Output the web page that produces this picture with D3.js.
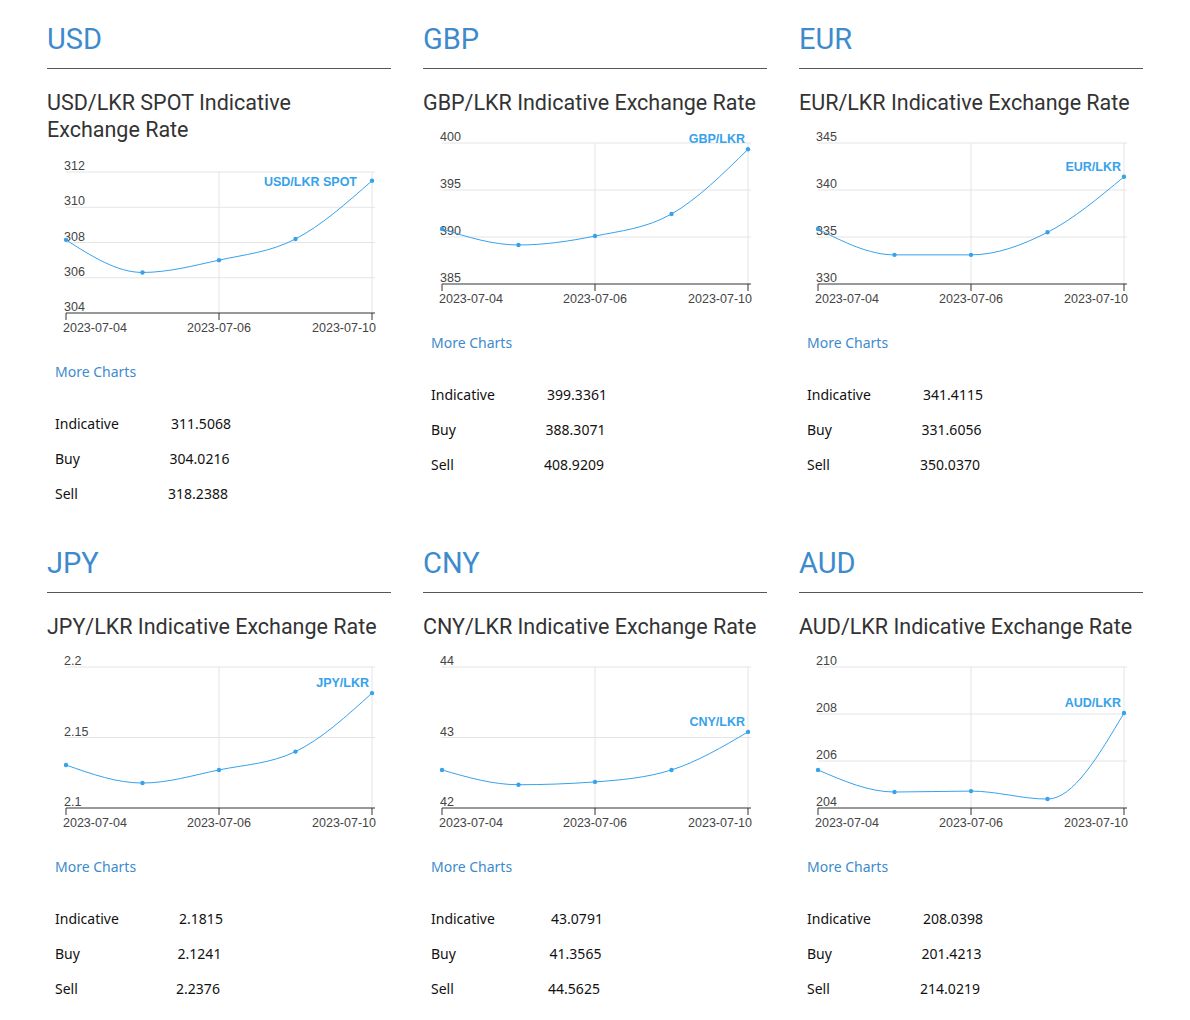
<!DOCTYPE html>
<html><head><meta charset="utf-8">
<script src="https://cdn.jsdelivr.net/npm/d3@7"></script>
<style>body{margin:0;background:#fff}</style>
</head><body><div id="chartDiv"></div>
<script>
// data
var dates = ["2023-07-04", "2023-07-05", "2023-07-06", "2023-07-07", "2023-07-10"];
var tickDates = ["2023-07-04", "2023-07-06", "2023-07-10"];
var codes = ["USD", "GBP", "EUR", "JPY", "CNY", "AUD"];
var titles = ["USD/LKR SPOT Indicative Exchange Rate", "GBP/LKR Indicative Exchange Rate", "EUR/LKR Indicative Exchange Rate",
              "JPY/LKR Indicative Exchange Rate", "CNY/LKR Indicative Exchange Rate", "AUD/LKR Indicative Exchange Rate"];
var seriesNames = ["USD/LKR SPOT", "GBP/LKR", "EUR/LKR", "JPY/LKR", "CNY/LKR", "AUD/LKR"];
var usd = [308.15, 306.3, 307.0, 308.2, 311.5068];
var gbp = [390.85, 389.15, 390.1, 392.45, 399.3361];
var eur = [335.85, 333.1, 333.1, 335.5, 341.4115];
var jpy = [2.1305, 2.1177, 2.127, 2.140, 2.1815];
var cny = [42.54, 42.33, 42.37, 42.54, 43.0791];
var aud = [205.62, 204.68, 204.72, 204.38, 208.0398];
var series = [usd, gbp, eur, jpy, cny, aud];
var yDomains = [[304, 312], [385, 400], [330, 345], [2.1, 2.2], [42, 44], [204, 210]];
var yTicks = [[304, 306, 308, 310, 312], [385, 390, 395, 400], [330, 335, 340, 345], [2.1, 2.15, 2.2], [42, 43, 44], [204, 206, 208, 210]];
var indicative = ["311.5068", "399.3361", "341.4115", "2.1815", "43.0791", "208.0398"];
var buy = ["304.0216", "388.3071", "331.6056", "2.1241", "41.3565", "201.4213"];
var sell = ["318.2388", "408.9209", "350.0370", "2.2376", "44.5625", "214.0219"];

var svg = d3.select("#chartDiv").append("svg").attr("width", 1190).attr("height", 1020);
var blue = "#3d8bcd", line = "#36a2eb";

codes.forEach(function(code, i) {
    var cx = 47 + (i % 3) * 376;
    var ry = Math.floor(i / 3) * 524;
    var g = svg.append("g");
    g.append("text").attr("x", cx).attr("y", ry + 49).text(code)
     .attr("font-family", "Roboto").attr("font-size", 29).attr("fill", blue);
    g.append("line").attr("x1", cx).attr("x2", cx + 344).attr("y1", ry + 68.5).attr("y2", ry + 68.5).attr("stroke", "#555");
    // title, USD wraps
    var tl = i === 0 ? ["USD/LKR SPOT Indicative", "Exchange Rate"] : [titles[i]];
    tl.forEach(function(t, k) {
        g.append("text").attr("x", cx).attr("y", ry + 110 + k * 27).text(t)
         .attr("font-family", "Roboto").attr("font-size", 21.5).attr("fill", "#333");
    });
    var shift = i === 0 ? 29 : 0;
    var top = ry + 143 + shift, bottom = ry + 284 + shift;
    var x = d3.scalePoint().domain(dates).range([cx + 19, cx + 325]);
    var y = d3.scaleLinear().domain(yDomains[i]).range([bottom, top]);
    var grid = g.append("g").attr("stroke", "#e4e4e4");
    yTicks[i].forEach(function(v) {
        if (v !== yDomains[i][0]) grid.append("line").attr("x1", x.range()[0]).attr("x2", x.range()[1] + 3).attr("y1", y(v)).attr("y2", y(v));
    });
    tickDates.forEach(function(d) {
        if (d !== dates[0]) grid.append("line").attr("x1", x(d)).attr("x2", x(d)).attr("y1", top).attr("y2", bottom);
    });
    yTicks[i].forEach(function(v) {
        g.append("text").attr("x", cx + 17).attr("y", y(v) - 2).text(v)
         .attr("font-family", "Liberation Sans").attr("font-size", 12.5).attr("fill", "#444");
    });
    g.append("line").attr("x1", x.range()[0]).attr("x2", x.range()[1] + 3).attr("y1", bottom).attr("y2", bottom).attr("stroke", "#333");
    tickDates.forEach(function(d, k) {
        g.append("line").attr("x1", x(d)).attr("x2", x(d)).attr("y1", bottom).attr("y2", bottom + 7).attr("stroke", "#333");
        g.append("text").attr("x", x(d)).attr("y", bottom + 19).text(d)
         .attr("text-anchor", k === 0 ? "start" : (k === 2 ? "end" : "middle"))
         .attr("dx", k === 0 ? -3 : (k === 2 ? 4 : 0))
         .attr("font-family", "Liberation Sans").attr("font-size", 12.5).attr("fill", "#444");
    });
    var pts = series[i].map(function(v, k) { return [x(dates[k]), y(v)]; });
    g.append("path").attr("d", d3.line().curve(d3.curveMonotoneX)(pts))
     .attr("fill", "none").attr("stroke", line).attr("stroke-width", 1);
    g.selectAll("circle.p").data(pts).enter().append("circle")
     .attr("cx", function(d) { return d[0]; }).attr("cy", function(d) { return d[1]; })
     .attr("r", 2.2).attr("fill", line);
    var last = pts[pts.length - 1];
    g.append("text").attr("x", last[0] - (i === 0 ? 15 : 3)).attr("y", i === 0 ? last[1] + 5 : last[1] - 6)
     .attr("text-anchor", "end").text(seriesNames[i])
     .attr("font-family", "Liberation Sans").attr("font-weight", "bold").attr("font-size", 12.5).attr("fill", line);
    var by = bottom + 59;
    g.append("text").attr("x", cx + 8).attr("y", by + 5).text("More Charts")
     .attr("font-family", "Noto Sans").attr("font-size", 14).attr("fill", blue);
    [["Indicative", indicative[i]], ["Buy", buy[i]], ["Sell", sell[i]]].forEach(function(r, k) {
        var yy = by + 57 + k * 35;
        g.append("text").attr("x", cx + 8).attr("y", yy).text(r[0])
         .attr("font-family", "Noto Sans").attr("font-size", 14).attr("fill", "#111");
        g.append("text").attr("x", cx + 154 - k * 1.5).attr("y", yy).text(r[1]).attr("text-anchor", "middle")
         .attr("font-family", "Noto Sans").attr("font-size", 14).attr("fill", "#111");
    });
});
</script></body></html>
